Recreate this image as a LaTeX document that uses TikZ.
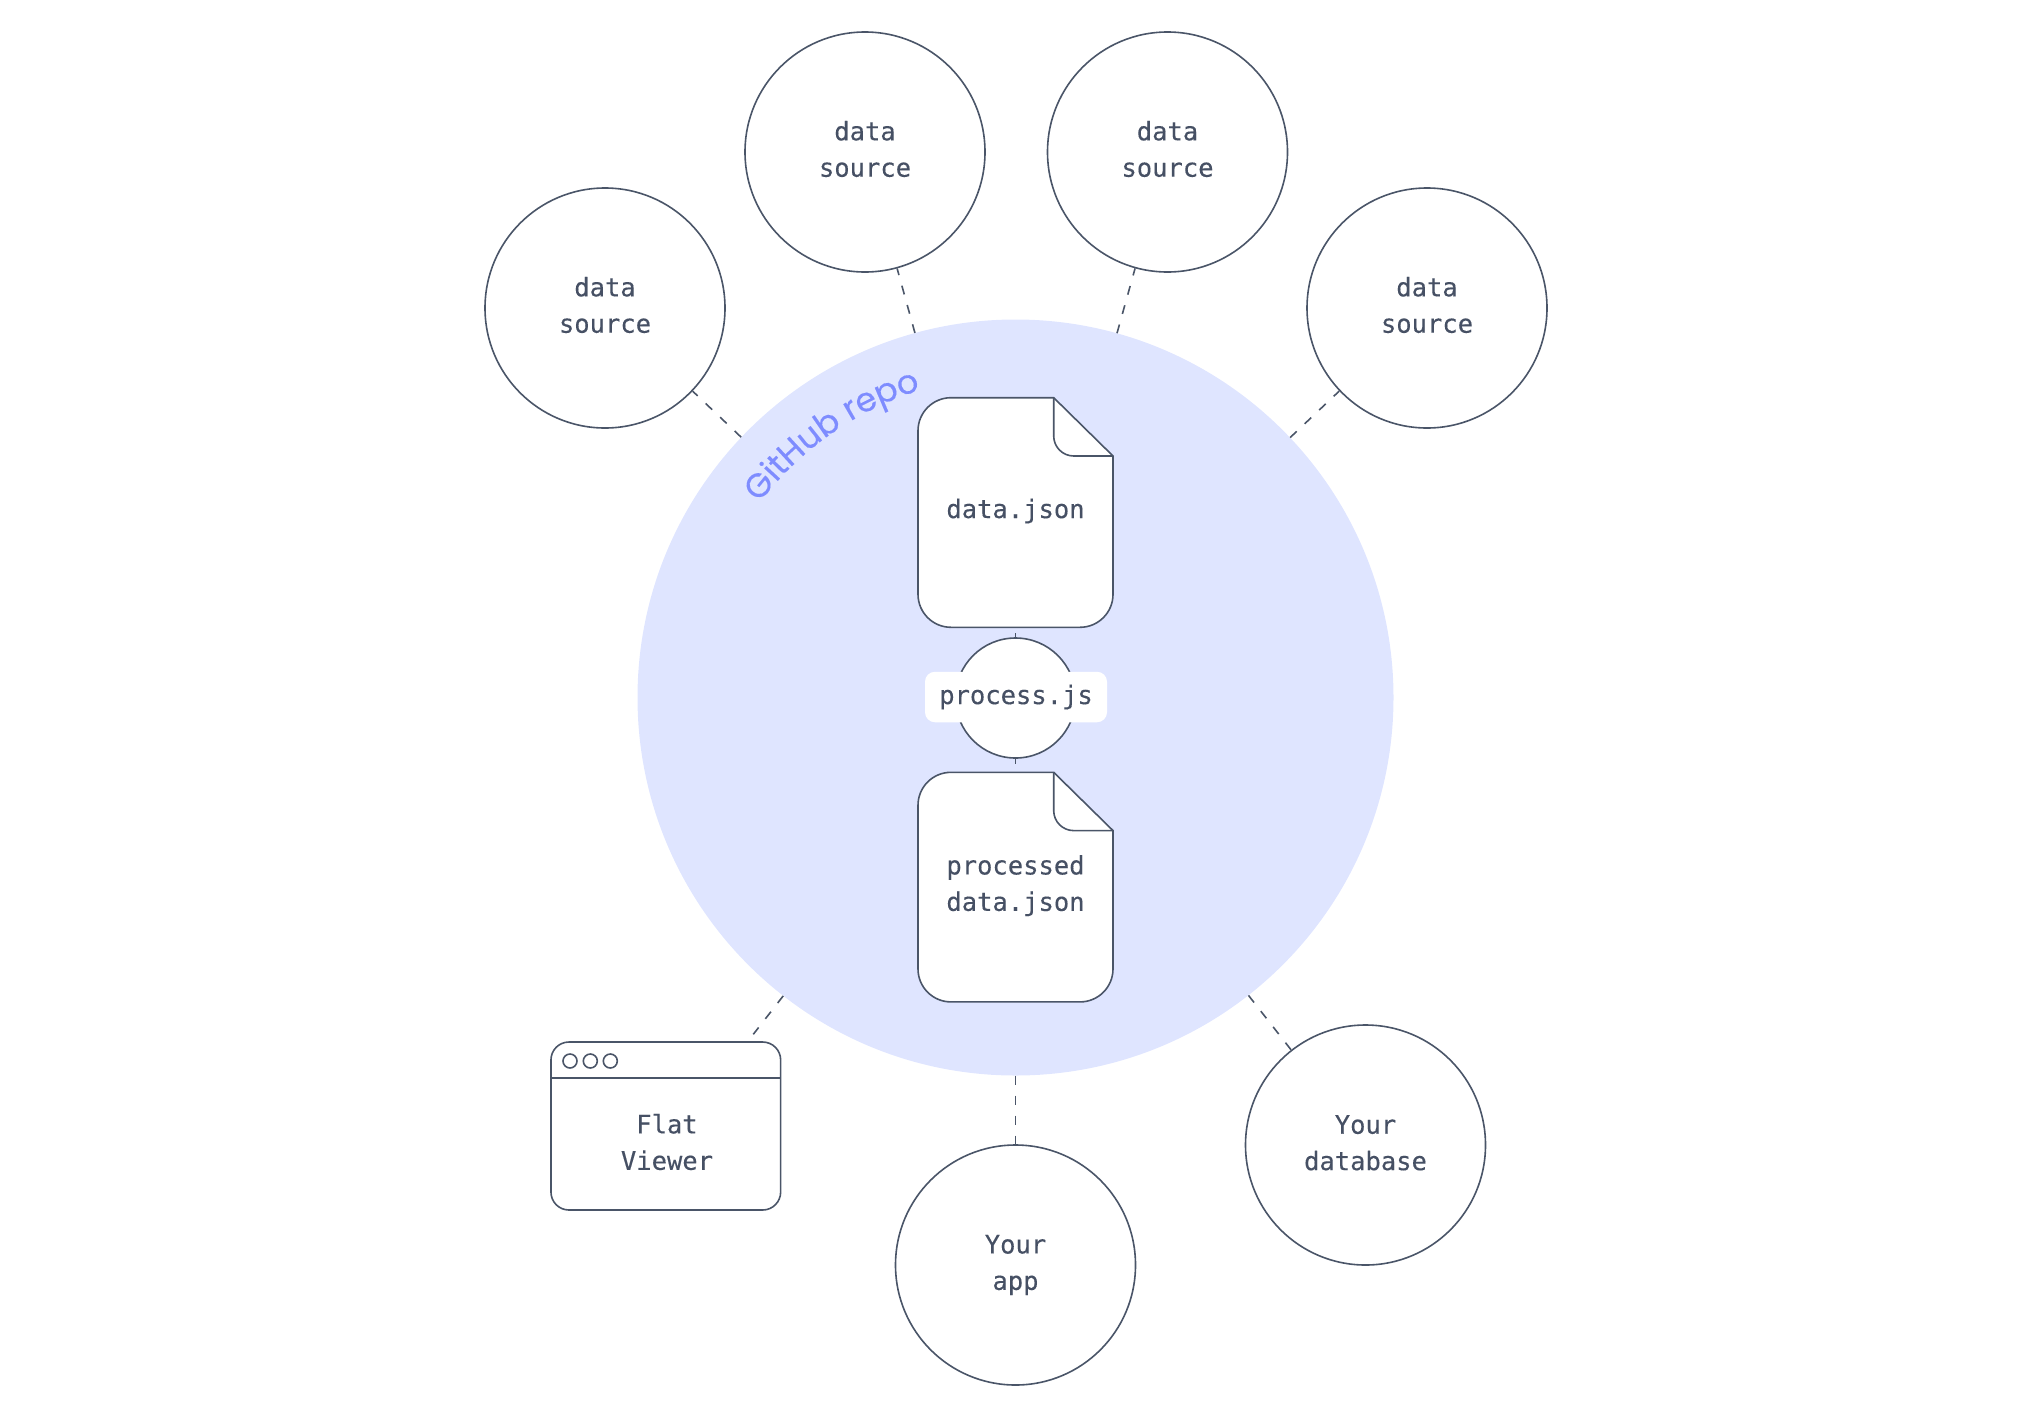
\documentclass[tikz,border=0pt]{standalone}
\usepackage{fontspec}
\setmonofont[FakeBold=0.25]{DejaVu Sans Mono}
\newfontfamily\repofont[FakeBold=0.2]{Poppins}
\usetikzlibrary{decorations.text}
\pgfdeclarelayer{background}
\pgfdeclarelayer{foreground}
\pgfsetlayers{background,main,foreground}
\definecolor{inkgray}{HTML}{4A5568}
\definecolor{labelgray}{HTML}{465064}
\definecolor{repofill}{HTML}{DFE5FF}
\definecolor{repotext}{HTML}{7E8CFF}
\tikzset{
  lbl/.style={align=center,text=labelgray,inner sep=0pt,font=\ttfamily\fontsize{25.5}{36.4}\selectfont},
  outline/.style={draw=inkgray,line width=1.6pt,fill=white},
  roundnode/.style={outline,circle,inner sep=0pt,minimum size=240pt},
  conn/.style={draw=inkgray,line width=1.6pt,dash pattern=on 9pt off 11pt},
  docbox/.style={rectangle,minimum width=195pt,minimum height=229.6pt,inner sep=0pt},
}
\newcommand{\docpage}[3]{
\node[docbox] (#1) at (1015.5,#2) {};
\draw[outline,rounded corners=33pt] (1053.7,#2-114.8) -- (918,#2-114.8) -- (918,#2+114.8) -- (1113,#2+114.8) [sharp corners] -- (1113,#2-56.5) -- cycle;
\draw[outline,fill=none,rounded corners=20pt] (1053.7,#2-114.8) -- (1053.7,#2-56.5) -- (1113,#2-56.5);
\node[lbl] (#1-label) at (1015.5,#2-1.5) {#3};
}
\begin{document}
\begin{tikzpicture}[x=1pt,y=-1pt]
\useasboundingbox (0,0) rectangle (2034,1406);
\begin{pgfonlayer}{background}
\node[circle,fill=repofill,minimum size=756pt,inner sep=0pt] (repo) at (1015.5,697.5) {};
\end{pgfonlayer}
\path[decorate,decoration={text along path,text align=center,text={|\repofont\fontsize{33.5}{34}\selectfont\color{repotext}|GitHub repo}}]
  plot[smooth,samples=12,domain=212:258] ({1016+322*cos(\x)},{697.5+322*sin(\x)});
% sources
\foreach \name/\px/\py in {srca/605/308,srcb/865/152,srcc/1167.5/152,srcd/1427/308} {
  \node[roundnode] (\name) at (\px,\py) {};
  \node[lbl] (\name-label) at (\px,\py-3) {data\\source};
}
\node[roundnode] (app) at (1015.5,1265) {};
\node[lbl] (app-label) at (app) {Your\\app};
\node[roundnode] (db) at (1365.5,1145) {};
\node[lbl] (db-label) at (1365.5,1142.8) {Your\\database};
% files
\docpage{data}{512.5}{data.json}
\docpage{processed}{887.1}{processed\\data.json}
\node[circle,outline,minimum size=120pt,inner sep=0pt] (process) at (1015.5,698) {};
\node[fill=white,rounded corners=10pt,minimum width=182pt,minimum height=50.5pt,inner sep=0pt,lbl] (process-label) at (1016,697) {process.js};
% viewer
\node[outline,rounded corners=18pt,minimum width=229.7pt,minimum height=168pt,inner sep=0pt] (viewer) at (665.8,1126) {};
\draw[draw=inkgray,line width=1.6pt] (viewer.west |- 0,1077.7) -- (viewer.east |- 0,1077.7);
\foreach \name/\px in {dota/570,dotb/590.3,dotc/610.3}
  \node[circle,draw=inkgray,line width=1.6pt,minimum size=14pt,inner sep=0pt] (\name) at (\px,1061) {};
\node[lbl] (viewer-label) at (667,1142) {Flat\\Viewer};
\coordinate (viewer-end) at (753.3,1034.3);
\begin{pgfonlayer}{background}
\foreach \name in {srca,srcb,srcc,srcd,app,db,viewer-end}
  \draw[conn] (repo) -- (\name);
\draw[conn,dash phase=4.3pt] (process) -- (data);
\draw[conn,dash phase=4.3pt] (process) -- (processed);
\end{pgfonlayer}
\end{tikzpicture}
\end{document}
